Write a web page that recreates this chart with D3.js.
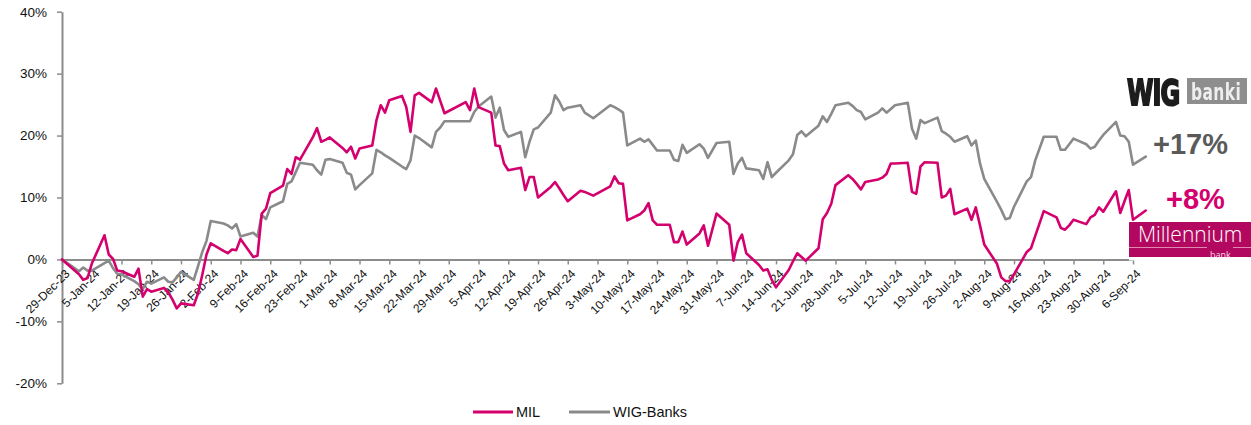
<!DOCTYPE html>
<html>
<head>
<meta charset="utf-8">
<script src="https://cdn.jsdelivr.net/npm/d3@7"></script>
<style>
  html, body { margin: 0; padding: 0; background: #fff; }
  svg { display: block; font-family: "Liberation Sans", Arial, sans-serif; }
</style>
</head>
<body>
<svg id="chart" width="1251" height="425"></svg>
<script>
// Trading days, 29-Dec-2023 .. 9-Sep-2024
const dates = [
  "2023-12-29","2024-01-02","2024-01-03","2024-01-04","2024-01-05","2024-01-08","2024-01-09","2024-01-10","2024-01-11","2024-01-12",
  "2024-01-15","2024-01-16","2024-01-17","2024-01-18","2024-01-19","2024-01-22","2024-01-23","2024-01-24","2024-01-25","2024-01-26",
  "2024-01-29","2024-01-30","2024-01-31","2024-02-01","2024-02-02","2024-02-05","2024-02-06","2024-02-07","2024-02-08","2024-02-09",
  "2024-02-12","2024-02-13","2024-02-14","2024-02-15","2024-02-16","2024-02-19","2024-02-20","2024-02-21","2024-02-22","2024-02-23",
  "2024-02-26","2024-02-27","2024-02-28","2024-02-29","2024-03-01","2024-03-04","2024-03-05","2024-03-06","2024-03-07","2024-03-08",
  "2024-03-11","2024-03-12","2024-03-13","2024-03-14","2024-03-15","2024-03-18","2024-03-19","2024-03-20","2024-03-21","2024-03-22",
  "2024-03-25","2024-03-26","2024-03-27","2024-03-28","2024-04-02","2024-04-03","2024-04-04","2024-04-05","2024-04-08","2024-04-09",
  "2024-04-10","2024-04-11","2024-04-12","2024-04-15","2024-04-16","2024-04-17","2024-04-18","2024-04-19","2024-04-22","2024-04-23",
  "2024-04-24","2024-04-25","2024-04-26","2024-04-29","2024-04-30","2024-05-02","2024-05-06","2024-05-07","2024-05-08","2024-05-09",
  "2024-05-10","2024-05-13","2024-05-14","2024-05-15","2024-05-16","2024-05-17","2024-05-20","2024-05-21","2024-05-22","2024-05-23",
  "2024-05-24","2024-05-27","2024-05-28","2024-05-29","2024-05-31","2024-06-03","2024-06-04","2024-06-05","2024-06-06","2024-06-07",
  "2024-06-10","2024-06-11","2024-06-12","2024-06-13","2024-06-14","2024-06-17","2024-06-18","2024-06-19","2024-06-20","2024-06-21",
  "2024-06-24","2024-06-25","2024-06-26","2024-06-27","2024-06-28","2024-07-01","2024-07-02","2024-07-03","2024-07-04","2024-07-05",
  "2024-07-08","2024-07-09","2024-07-10","2024-07-11","2024-07-12","2024-07-15","2024-07-16","2024-07-17","2024-07-18","2024-07-19",
  "2024-07-22","2024-07-23","2024-07-24","2024-07-25","2024-07-26","2024-07-29","2024-07-30","2024-07-31","2024-08-01","2024-08-02",
  "2024-08-05","2024-08-06","2024-08-07","2024-08-08","2024-08-09","2024-08-12","2024-08-13","2024-08-14","2024-08-16","2024-08-19",
  "2024-08-20","2024-08-21","2024-08-22","2024-08-23","2024-08-26","2024-08-27","2024-08-28","2024-08-29","2024-08-30","2024-09-02",
  "2024-09-03","2024-09-04","2024-09-05","2024-09-06","2024-09-09"
];

// Cumulative return since 29-Dec-2023, %
const milValues = [
  0, -2.4, -3.3, -3.0, -0.7, 3.9, 0.8, 0.1, -1.8, -1.9,
  -2.8, -1.5, -6.0, -4.8, -5.2, -4.6, -5.3, -6.5, -7.9, -7.1,
  -7.4, -5.5, -2.5, 0.8, 2.6, 1.4, 1.0, 1.6, 1.5, 3.3,
  0.4, 0.6, 7.4, 8.2, 10.7, 11.9, 14.6, 13.8, 16.5, 16.1,
  19.7, 21.2, 19.0, 19.3, 19.7, 18.0, 17.3, 18.2, 16.3, 17.9,
  18.4, 22.5, 24.9, 23.7, 25.7, 26.4, 24.6, 20.6, 26.5, 26.9,
  25.4, 27.6, 25.6, 23.6, 25.4, 24.1, 27.6, 24.6, 23.7, 18.4,
  18.3, 15.5, 14.4, 14.8, 11.2, 13.3, 13.3, 10.0, 11.7, 12.5,
  11.5, 10.4, 9.4, 11.1, 10.9, 10.3, 11.8, 13.4, 12.3, 12.2,
  6.3, 7.3, 7.9, 9.1, 6.3, 5.6, 5.6, 2.8, 2.8, 4.5,
  2.4, 4.2, 5.5, 2.2, 7.4, 5.6, -0.2, 2.8, 4.0, 1.0,
  -0.9, -1.8, -1.6, -3.3, -4.5, -1.7, -0.3, 1.0, 0.4, -0.2,
  1.8, 6.5, 7.5, 9.0, 12.0, 13.6, 13.0, 12.2, 11.3, 12.5,
  12.9, 13.2, 13.8, 15.5, 15.5, 15.6, 10.9, 10.6, 15.0, 15.7,
  15.6, 10.0, 10.3, 11.4, 7.3, 8.2, 6.4, 8.4, 5.5, 2.4,
  -0.7, -2.9, -3.5, -3.5, -2.4, 1.2, 1.8, 3.8, 7.8, 6.8,
  5.1, 4.8, 5.5, 6.4, 5.7, 6.8, 7.2, 8.4, 7.7, 11.0,
  7.5, 9.4, 11.2, 6.4, 7.9
];

const wigValues = [
  0, -1.9, -1.3, -1.8, -1.8, -0.6, -0.2, -1.4, -2.3, -2.4,
  -3.5, -4.0, -4.8, -3.6, -3.9, -2.9, -3.6, -3.7, -2.9, -2.0,
  -3.3, -1.1, 1.2, 3.0, 6.2, 5.8, 5.5, 5.0, 5.7, 3.7,
  4.3, 3.7, 7.2, 6.5, 8.4, 9.4, 12.2, 12.6, 14.1, 15.6,
  15.3, 14.4, 13.7, 16.1, 16.2, 15.6, 14.0, 13.7, 11.3, 12.0,
  13.9, 17.7, 17.3, 16.8, 16.4, 15.0, 14.6, 16.0, 20.0, 19.6,
  18.1, 20.6, 21.3, 22.3, 22.3, 22.3, 23.8, 24.7, 26.3, 22.9,
  24.5, 20.9, 19.8, 20.6, 16.5, 19.0, 21.0, 21.3, 23.7, 26.5,
  25.5, 24.1, 24.5, 24.9, 23.7, 22.8, 24.9, 24.6, 24.2, 23.7,
  18.4, 19.5, 19.0, 19.4, 18.5, 17.6, 17.6, 16.1, 15.9, 18.5,
  17.2, 18.6, 17.9, 16.4, 18.8, 19.0, 13.8, 15.5, 16.4, 14.7,
  14.4, 13.0, 15.7, 13.3, 14.0, 16.0, 17.0, 20.1, 20.7, 19.9,
  21.6, 23.1, 22.2, 23.5, 24.9, 25.3, 24.8, 24.1, 23.8, 22.6,
  23.7, 24.4, 23.7, 24.3, 24.9, 25.3, 21.1, 19.5, 22.5, 22.0,
  22.9, 20.7, 20.3, 19.8, 19.0, 19.9, 18.4, 19.2, 15.5, 13.0,
  9.3, 8.0, 6.5, 6.7, 8.5, 12.6, 13.3, 16.0, 19.8, 19.8,
  17.7, 17.7, 18.6, 19.5, 18.6, 17.9, 18.2, 19.2, 20.1, 22.2,
  20.0, 19.9, 19.0, 15.3, 16.6
];

const seriesNames = ["MIL", "WIG-Banks"];
const seriesColors = ["#d4006e", "#8a8a8a"];
const yTicks = [-20, -10, 0, 10, 20, 30, 40];
const xStart = "2023-12-29";
const xEnd = "2024-09-06";

const parse = d3.timeParse("%Y-%m-%d");
const fmtDate = d3.timeFormat("%-d-%b-%y");
const parsedDates = dates.map(parse);

const svg = d3.select("#chart");

const x = d3.scaleTime().domain([parse(xStart), parse(xEnd)]).range([62, 1133]);
const y = d3.scaleLinear().domain([-20, 40]).range([383.3, 11.7]);

const axisGrey = "#8c8c8c";

// Y axis
const yAxis = svg.append("g")
  .attr("transform", `translate(${x.range()[0]},0)`)
  .call(d3.axisLeft(y).tickValues(yTicks).tickSize(5).tickSizeOuter(0).tickPadding(10)
    .tickFormat(d => d + "%"));
yAxis.select(".domain").attr("stroke", axisGrey).attr("stroke-width", 2);
yAxis.selectAll(".tick line").attr("stroke", axisGrey).attr("stroke-width", 1.5);
yAxis.selectAll(".tick text").attr("fill", "#111").style("font-size", "13.5px")
  .style("font-family", "Liberation Sans, Arial, sans-serif");

// X axis on the zero line, weekly Friday ticks
const fridays = d3.timeFriday.range(parse(xStart), d3.timeDay.offset(parse(xEnd), 1));
const xAxis = svg.append("g")
  .attr("transform", `translate(0,${y(0)})`)
  .call(d3.axisBottom(x).tickValues(fridays).tickSize(5).tickSizeOuter(0).tickFormat(fmtDate));
xAxis.select(".domain").attr("stroke", axisGrey).attr("stroke-width", 2);
xAxis.selectAll(".tick line").attr("stroke", axisGrey).attr("stroke-width", 1.5);
xAxis.selectAll(".tick text")
  .attr("fill", "#111")
  .attr("x", 0).attr("y", 0).attr("dy", "0.35em")
  .attr("text-anchor", "end")
  .attr("transform", "translate(5,12) rotate(-45)")
  .style("font-size", "12px")
  .style("font-family", "Liberation Sans, Arial, sans-serif");

// Lines
const seriesValues = [milValues, wigValues];
const line = d3.line()
  .x((d, i) => x(parsedDates[i]))
  .y(d => y(d));

// grey first so the MIL line sits on top
[1, 0].forEach(k => {
  svg.append("path")
    .datum(seriesValues[k])
    .attr("fill", "none")
    .attr("stroke", seriesColors[k])
    .attr("stroke-width", 2.6)
    .attr("stroke-linejoin", "round")
    .attr("stroke-linecap", "round")
    .attr("d", line);
});

// End-of-period return labels
const lastIdx = dates.length - 1;
const endLabel = v => "+" + Math.round(v) + "%";
svg.append("text")
  .attr("x", 1153).attr("y", 154)
  .attr("fill", "#5a5a5a")
  .style("font-size", "29px").style("font-weight", "bold")
  .text(endLabel(wigValues[lastIdx]));
svg.append("text")
  .attr("x", 1166).attr("y", 209)
  .attr("fill", seriesColors[0])
  .style("font-size", "29px").style("font-weight", "bold")
  .text(endLabel(milValues[lastIdx]));

// WIG banki logo
const defs = svg.append("defs");
defs.append("filter").attr("id", "soft")
  .append("feGaussianBlur").attr("stdDeviation", 0.5);
const wigLogo = svg.append("g").attr("filter", "url(#soft)");
wigLogo.append("text")
  .attr("transform", "translate(1127,105) scale(1,1.5)")
  .attr("fill", "#1c1c1c")
  .attr("stroke", "#1c1c1c").attr("stroke-width", 1.4)
  .style("font-family", "DejaVu Sans, sans-serif")
  .style("font-size", "24px").style("font-weight", "bold")
  .style("letter-spacing", "-1px")
  .text("WIG");
wigLogo.append("rect")
  .attr("x", 1187).attr("y", 78).attr("width", 60).attr("height", 26)
  .attr("fill", "#8e8e8e");
wigLogo.append("text")
  .attr("transform", "translate(1191,100) scale(1,1.45)")
  .attr("fill", "#eeeeee")
  .style("font-family", "DejaVu Sans, sans-serif")
  .style("font-size", "15.5px").style("font-weight", "bold")
  .style("letter-spacing", "0.4px")
  .text("banki");

// Millennium bank logo
const milLogo = svg.append("g");
milLogo.append("rect")
  .attr("x", 1129).attr("y", 256).attr("width", 122).attr("height", 4.5)
  .attr("fill", "#fff");
milLogo.append("rect")
  .attr("x", 1129).attr("y", 222).attr("width", 122).attr("height", 35)
  .attr("fill", "#b3085f");
milLogo.append("line")
  .attr("x1", 1129).attr("x2", 1251).attr("y1", 247.5).attr("y2", 247.5)
  .attr("stroke", "#e9a9c8").attr("stroke-width", 0.8);
milLogo.append("rect")
  .attr("x", 1207).attr("y", 245).attr("width", 26).attr("height", 5)
  .attr("fill", "#b3085f");
milLogo.append("text")
  .attr("transform", "translate(1138,241.5) scale(1,1.05)")
  .attr("fill", "#ffffff")
  .style("font-family", "Open Sans, sans-serif")
  .style("font-size", "21px").style("font-weight", "300")
  .text("Millennium");
milLogo.append("text")
  .attr("x", 1210).attr("y", 257.5)
  .attr("fill", "#f6d8e7")
  .style("font-family", "Open Sans, sans-serif")
  .style("font-size", "9px")
  .text("bank");

// Legend
const legend = svg.append("g");
const legendItems = [
  { x1: 473, x2: 513, tx: 516 },
  { x1: 569, x2: 610, tx: 613 }
];
legendItems.forEach((it, k) => {
  legend.append("line")
    .attr("x1", it.x1).attr("x2", it.x2).attr("y1", 412).attr("y2", 412)
    .attr("stroke", seriesColors[k]).attr("stroke-width", 3);
  legend.append("text")
    .attr("x", it.tx).attr("y", 412).attr("dy", "0.35em")
    .attr("fill", "#111")
    .style("font-size", "14.5px")
    .text(seriesNames[k]);
});
</script>
</body>
</html>
